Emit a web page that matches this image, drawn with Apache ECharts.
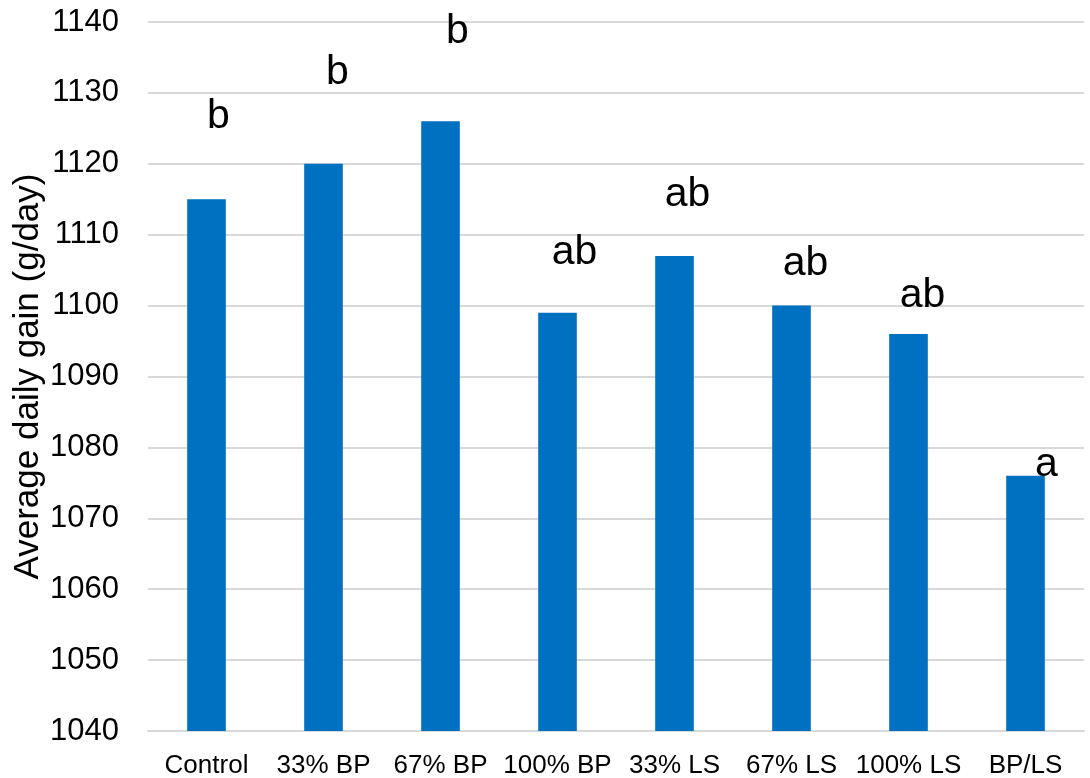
<!DOCTYPE html>
<html>
<head>
<meta charset="utf-8">
<script src="https://cdn.jsdelivr.net/npm/echarts@6/dist/echarts.min.js"></script>
<style>
  html, body { margin: 0; padding: 0; background: #fff; }
  #chart { width: 1090px; height: 778px; }
</style>
</head>
<body>
<div id="chart"></div>
<script>
// Treatments and their average daily gain (g/day)
const categories = ['Control', '33% BP', '67% BP', '100% BP', '33% LS', '67% LS', '100% LS', 'BP/LS'];
const gain = [1115, 1120, 1126, 1099, 1107, 1100, 1096, 1076];
// Significance letters shown above each bar
const letters = ['b', 'b', 'b', 'ab', 'ab', 'ab', 'ab', 'a'];
// Vertical gap between bar top and its letter, and sideways nudge of the letter (px)
const letterGap = [62, 71, 69, 40, 41, 21, 18, -9];
const letterShift = [12, 14, 17, 17, 13, 14, 14, 21];

const font = '"Liberation Sans", Arial, sans-serif';

const chart = echarts.init(document.getElementById('chart'), null, { renderer: 'canvas' });

chart.setOption({
  animation: false,
  backgroundColor: '#ffffff',
  grid: { left: 148, right: 6, top: 22, bottom: 47, containLabel: false, outerBoundsMode: 'none' },
  xAxis: {
    type: 'category',
    data: categories,
    axisLine: { show: true, lineStyle: { color: '#d9d9d9', width: 2 } },
    axisTick: { show: false },
    axisLabel: { color: '#000', fontSize: 26, fontFamily: font, margin: 22, interval: 0 }
  },
  yAxis: {
    type: 'value',
    min: 1040,
    max: 1140,
    interval: 10,
    name: 'Average daily gain (g/day)',
    nameLocation: 'middle',
    nameGap: 102,
    nameMoveOverlap: false,
    nameTextStyle: { color: '#000', fontSize: 35, fontFamily: font },
    axisLine: { show: false },
    axisTick: { show: false },
    axisLabel: { color: '#000', fontSize: 31, fontFamily: font, margin: 29, formatter: v => String(v) },
    splitLine: { lineStyle: { color: '#d9d9d9', width: 2 } }
  },
  series: [{
    type: 'bar',
    barWidth: '33%',
    itemStyle: { color: '#0070c0' },
    data: gain.map((v, i) => ({
      value: v,
      label: {
        show: true,
        position: 'top',
        distance: letterGap[i],
        offset: [letterShift[i], 0],
        formatter: letters[i],
        color: '#000',
        fontSize: 41,
        fontFamily: font
      }
    }))
  }]
});
</script>
</body>
</html>
